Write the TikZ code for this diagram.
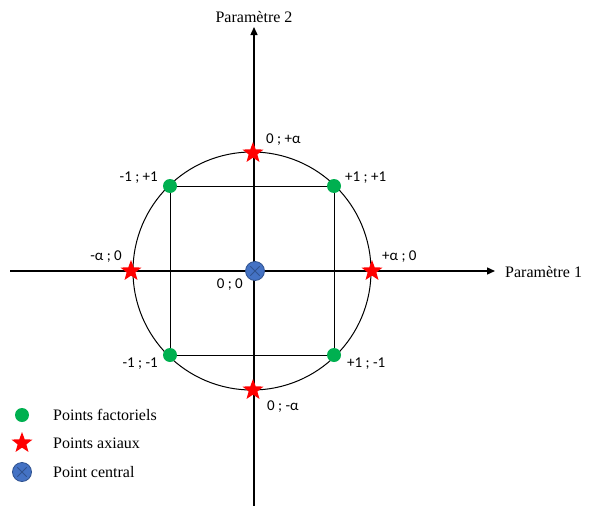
\documentclass[tikz,border=0pt]{standalone}
\usepackage{fontspec}
\setmainfont{Liberation Serif}
\newfontfamily\lbl{Carlito}
\usetikzlibrary{shapes.geometric,arrows.meta,calc}
\definecolor{fgreen}{HTML}{00B050}
\definecolor{cblue}{HTML}{4472C4}
\definecolor{cbord}{HTML}{2F528F}
\tikzset{
  axis/.style={line width=1.4pt,-{Triangle[length=8pt,width=7pt]}},
  fact/.style={circle,fill=fgreen,inner sep=0pt,minimum size=14pt},
  axial/.style={star,star points=5,star point ratio=2.4,fill=red,inner sep=0pt,minimum size=22pt},
  cent/.style={circle,fill=cblue,draw=cbord,line width=0.8pt,inner sep=0pt,minimum size=19pt},
  ptlbl/.style={font=\lbl\fontsize{15}{17}\selectfont,inner sep=0pt},
  ttl/.style={font=\fontsize{16}{18}\selectfont,inner sep=0pt},
}
\begin{document}
\begin{tikzpicture}[x=1pt,y=-1pt]
\useasboundingbox (0,0) rectangle (589,506);
% circle and square
\draw[line width=1pt] (252,271) circle (119);
\draw[line width=1pt] (170,186) rectangle (334,355);
% axes
\coordinate (xs) at (10,271);
\coordinate (xe) at (495,271);
\coordinate (ys) at (254,506);
\coordinate (ye) at (254,27);
\draw[axis] (xs) -- (xe);
\draw[axis] (ys) -- (ye);
\node[ttl,anchor=west] (p1) at (505,272) {Paramètre 1};
\node[ttl] (p2) at (254,17) {Paramètre 2};
% factorial points
\node[fact] (f1) at (170,186) {};
\node[fact] (f2) at (334,186) {};
\node[fact] (f3) at (170,355) {};
\node[fact] (f4) at (334,355) {};
% axial points
\node[axial] (a1) at (253,153) {};
\node[axial] (a2) at (253,390) {};
\node[axial] (a3) at (131,271) {};
\node[axial] (a4) at (372,271) {};
% central
\node[cent] (c0) at (255,271) {};
\draw[cbord,line width=0.8pt] ($(c0)+(-4.7,-4.7)$) -- ($(c0)+(4.7,4.7)$);
\draw[cbord,line width=0.8pt] ($(c0)+(-4.7,4.7)$) -- ($(c0)+(4.7,-4.7)$);
% labels
\node[ptlbl,anchor=west] (l1) at (266,140) {0 ; +α};
\node[ptlbl,anchor=east] (l2) at (158,178) {-1 ; +1};
\node[ptlbl,anchor=west] (l3) at (345,178) {+1 ; +1};
\node[ptlbl,anchor=east] (l4) at (122,257) {-α ; 0};
\node[ptlbl,anchor=west] (l5) at (382,257) {+α ; 0};
\node[ptlbl,anchor=east] (l6) at (243,285) {0 ; 0};
\node[ptlbl,anchor=east] (l7) at (158,364) {-1 ; -1};
\node[ptlbl,anchor=west] (l8) at (347,364) {+1 ; -1};
\node[ptlbl,anchor=west] (l9) at (267,407) {0 ; -α};
% legend
\node[fact] (g1) at (22,415) {};
\node[axial] (g2) at (22,443) {};
\node[cent] (g3) at (22,472) {};
\draw[cbord,line width=0.8pt] ($(g3)+(-4.7,-4.7)$) -- ($(g3)+(4.7,4.7)$);
\draw[cbord,line width=0.8pt] ($(g3)+(-4.7,4.7)$) -- ($(g3)+(4.7,-4.7)$);
\node[ttl,anchor=west] (t1) at (53,415) {Points factoriels};
\node[ttl,anchor=west] (t2) at (53,443) {Points axiaux};
\node[ttl,anchor=west] (t3) at (53,472) {Point central};
\end{tikzpicture}
\end{document}
